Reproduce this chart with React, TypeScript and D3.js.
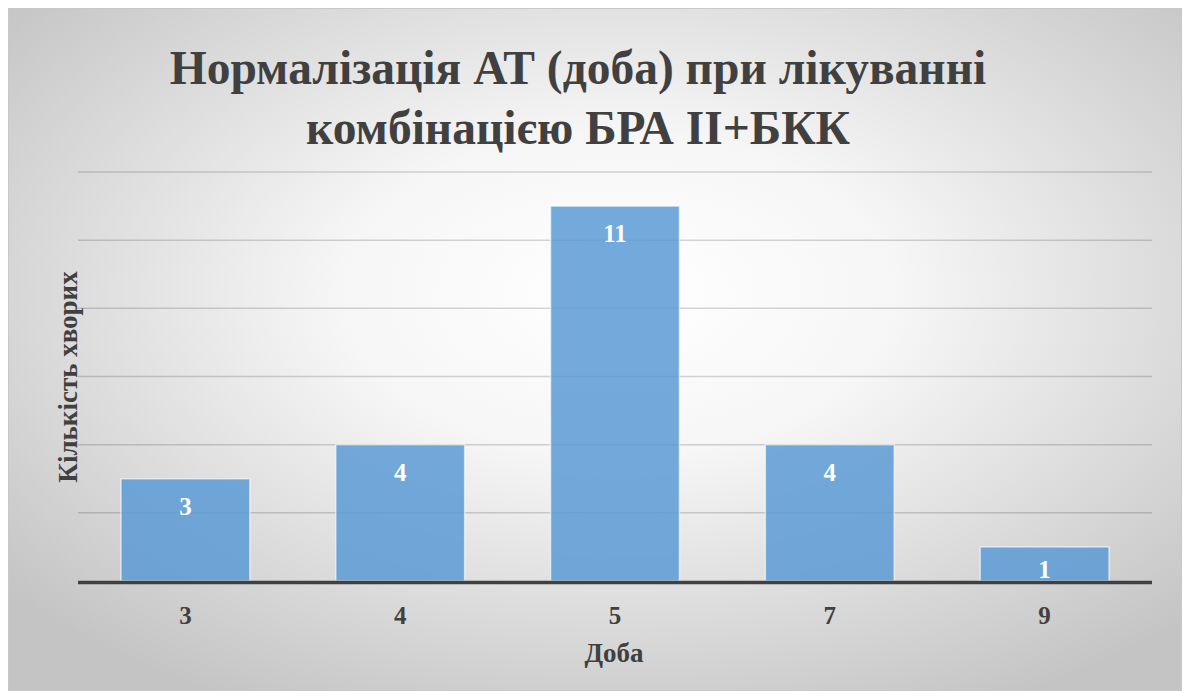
import React from "react";
import * as d3 from "d3";

const categories = ["3", "4", "5", "7", "9"];
const values = [3, 4, 11, 4, 1];
const yTicks = [0, 2, 4, 6, 8, 10, 12];
const titleLines = ["Нормалізація АТ (доба) при лікуванні", "комбінацією БРА ІІ+БКК"];

const W = 1187;
const H = 697;
const font = "'Liberation Serif', 'Times New Roman', serif";

export default function App() {
  const x = d3.scaleBand().domain(categories).range([78, 1152]).paddingInner(0.4).paddingOuter(0.2);
  const y = d3.scaleLinear().domain([0, 12]).range([581, 172]);

  return (
    <svg width={W} height={H} style={{ position: "absolute", left: 0, top: 0 }}>
      <defs>
        <radialGradient id="bg" cx="52%" cy="42%" r="68%">
          <stop offset="0%" stopColor="#ffffff" />
          <stop offset="35%" stopColor="#f6f6f6" />
          <stop offset="100%" stopColor="#c4c4c4" />
        </radialGradient>
      </defs>
      <rect x={8.5} y={8.5} width={1173} height={682} fill="url(#bg)" stroke="#c8c8c8" />
      <text textAnchor="middle" fontFamily={font} fontWeight="bold" fill="#404040" fontSize={47.5}>
        {titleLines.map((t, i) => (
          <tspan key={i} x={578} y={84 + i * 60}>{t}</tspan>
        ))}
      </text>
      {yTicks.filter((t) => t > 0).map((t) => (
        <line key={t} x1={78} x2={1152} y1={y(t)} y2={y(t)} stroke="#000" strokeOpacity={0.16} strokeWidth={1.5} />
      ))}
      {values.map((v, i) => (
        <g key={i}>
          <rect
            x={x(categories[i])}
            y={y(v)}
            width={x.bandwidth()}
            height={y(0) - y(v)}
            fill="#5b9bd5"
            fillOpacity={0.85}
            stroke="#ffffff"
            strokeOpacity={0.6}
            strokeWidth={1.5}
          />
          <text
            x={x(categories[i])! + x.bandwidth() / 2}
            y={Math.min(y(v) + 36, y(0) - 3)}
            textAnchor="middle"
            fontFamily={font}
            fontWeight="bold"
            fontSize={25}
            fill="#ffffff"
          >
            {v}
          </text>
          <text
            x={x(categories[i])! + x.bandwidth() / 2}
            y={624}
            textAnchor="middle"
            fontFamily={font}
            fontWeight="bold"
            fontSize={25}
            fill="#404040"
          >
            {categories[i]}
          </text>
        </g>
      ))}
      <line x1={78} x2={1152} y1={y(0) + 1.5} y2={y(0) + 1.5} stroke="#404040" strokeWidth={3.5} />
      <text x={614} y={662} textAnchor="middle" fontFamily={font} fontWeight="bold" fontSize={27} fill="#404040">
        Доба
      </text>
      <text
        transform="translate(77,377) rotate(-90)"
        textAnchor="middle"
        fontFamily={font}
        fontWeight="bold"
        fontSize={27}
        fill="#404040"
      >
        Кількість хворих
      </text>
    </svg>
  );
}
